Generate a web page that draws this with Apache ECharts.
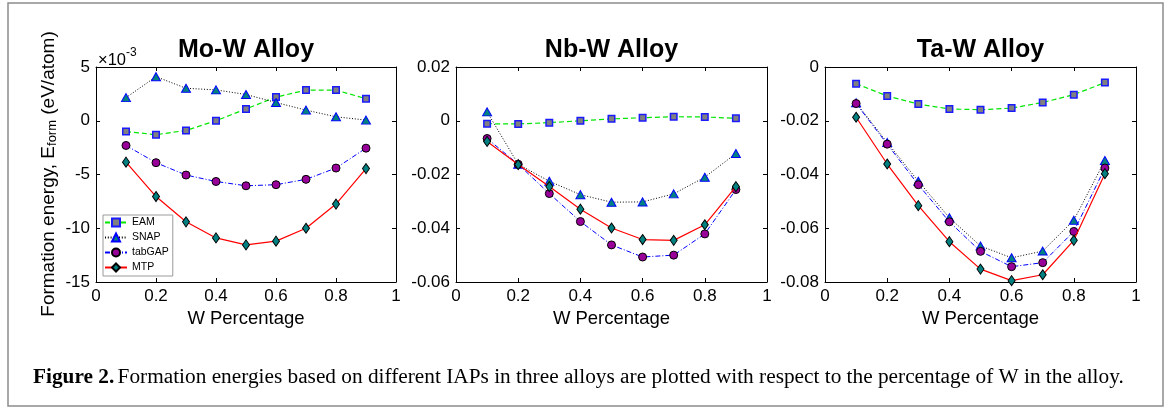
<!DOCTYPE html>
<html><head><meta charset="utf-8">
<script src="https://cdn.jsdelivr.net/npm/echarts@6/dist/echarts.min.js"></script>
<style>html,body{margin:0;padding:0;background:#fff}#c{width:1171px;height:410px}</style>
</head><body><div id="c"></div>
<script>
// ---------- data ----------
const wFraction = [0.1, 0.2, 0.3, 0.4, 0.5, 0.6, 0.7, 0.8, 0.9];
const panelTitles = ['Mo-W Alloy', 'Nb-W Alloy', 'Ta-W Alloy'];
const modelNames = ['EAM', 'SNAP', 'tabGAP', 'MTP'];

// Mo-W values in units of 1e-3 eV/atom (axis shows x10^-3)
const moW_EAM    = [-1.0, -1.3, -0.9, 0.0, 1.1, 2.2, 2.85, 2.85, 2.05];
const moW_SNAP   = [2.15, 4.1, 3.02, 2.87, 2.44, 1.7, 0.99, 0.37, 0.06];
const moW_tabGAP = [-2.3, -3.9, -5.05, -5.65, -6.05, -5.95, -5.45, -4.4, -2.55];
const moW_MTP    = [-3.85, -7.05, -9.4, -10.9, -11.55, -11.2, -10.0, -7.75, -4.45];

const nbW_EAM    = [-0.0011, -0.0012, -0.0007, 0.0, 0.0007, 0.0011, 0.0015, 0.0014, 0.0009];
const nbW_SNAP   = [0.0033, -0.0162, -0.0225, -0.0275, -0.0303, -0.0302, -0.0272, -0.021, -0.0122];
const nbW_tabGAP = [-0.0066, -0.0162, -0.0271, -0.0375, -0.0462, -0.0507, -0.0500, -0.0421, -0.0256];
const nbW_MTP    = [-0.0077, -0.0163, -0.0245, -0.0329, -0.0399, -0.0442, -0.0445, -0.0387, -0.0245];

const taW_EAM    = [-0.0062, -0.0108, -0.0138, -0.0156, -0.0159, -0.0153, -0.0132, -0.0103, -0.0058];
const taW_SNAP   = [-0.0133, -0.0281, -0.0425, -0.0561, -0.0666, -0.0710, -0.0685, -0.0570, -0.0348];
const taW_tabGAP = [-0.0136, -0.0287, -0.0438, -0.0576, -0.0686, -0.0743, -0.0728, -0.0612, -0.0376];
const taW_MTP    = [-0.0187, -0.0361, -0.0516, -0.0650, -0.0752, -0.0795, -0.0773, -0.0645, -0.0397];

const xTicks = {min: 0, max: 1, interval: 0.2};
const yTicks = [
  {min: -15, max: 5, interval: 5},
  {min: -0.06, max: 0.02, interval: 0.02},
  {min: -0.08, max: 0, interval: 0.02}
];
const panelData = [
  [moW_EAM, moW_SNAP, moW_tabGAP, moW_MTP],
  [nbW_EAM, nbW_SNAP, nbW_tabGAP, nbW_MTP],
  [taW_EAM, taW_SNAP, taW_tabGAP, taW_MTP]
];

// ---------- styles ----------
const SANS = 'Liberation Sans, Arial, Helvetica, sans-serif';
const SERIF = 'Liberation Serif, Times New Roman, serif';
const grids = [
  {left: 96,  top: 67, width: 300, height: 215},
  {left: 456, top: 67, width: 311, height: 215},
  {left: 825, top: 67, width: 311, height: 215}
];
const modelStyles = {
  EAM:    {symbol: 'rect', symbolSize: 6.5, itemStyle: {color: '#808080', borderColor: '#1a1aff', borderWidth: 1.5},
           lineStyle: {color: '#00e600', type: [5, 3], width: 1.2}},
  SNAP:   {symbol: 'triangle', symbolSize: [9, 8], itemStyle: {color: '#008080', borderColor: '#0000ff', borderWidth: 1},
           lineStyle: {color: '#000000', type: [1, 1.8], width: 1}},
  tabGAP: {symbol: 'circle', symbolSize: 8, itemStyle: {color: '#990099', borderColor: '#000000', borderWidth: 1},
           lineStyle: {color: '#0000ff', type: [5, 2, 1, 2], width: 1}},
  MTP:    {symbol: 'diamond', symbolSize: [7, 10], itemStyle: {color: '#008080', borderColor: '#000000', borderWidth: 1},
           lineStyle: {color: '#ff0000', type: 'solid', width: 1.2}}
};

const axisLineStyle = {onZero: false, lineStyle: {color: '#000', width: 1}};
const tickStyle = {inside: true, length: 4, lineStyle: {color: '#000', width: 1}};
const labelStyle = {color: '#000', fontSize: 17, fontFamily: SANS};

const xAxes = [], yAxes = [], series = [];
grids.forEach((g, gi) => {
  ['bottom', 'top'].forEach(pos => {
    xAxes.push(Object.assign({type: 'value', gridIndex: gi, position: pos,
      axisLine: axisLineStyle, axisTick: tickStyle, splitLine: {show: false},
      axisLabel: Object.assign({show: pos === 'bottom', margin: 6}, labelStyle),
      name: pos === 'bottom' ? 'W Percentage' : '', nameLocation: 'middle', nameGap: 26,
      nameTextStyle: {color: '#000', fontSize: 18.5, fontFamily: SANS}
    }, xTicks));
  });
  ['left', 'right'].forEach(pos => {
    yAxes.push(Object.assign({type: 'value', gridIndex: gi, position: pos,
      axisLine: axisLineStyle, axisTick: tickStyle, splitLine: {show: false},
      axisLabel: Object.assign({show: pos === 'left', margin: 6}, labelStyle)
    }, yTicks[gi]));
  });
  modelNames.forEach((m, mi) => {
    const st = modelStyles[m];
    series.push({
      type: 'line', name: m, xAxisIndex: gi * 2, yAxisIndex: gi * 2,
      data: wFraction.map((x, i) => [x, panelData[gi][mi][i]]),
      symbol: st.symbol, symbolSize: st.symbolSize,
      itemStyle: st.itemStyle, lineStyle: st.lineStyle,
      emphasis: {disabled: true}, silent: true, z: 2 + mi
    });
  });
});

const titleGraphics = panelTitles.map((t, i) => ({
  type: 'text', x: grids[i].left + grids[i].width / 2, y: 50,
  style: {text: t, align: 'center', verticalAlign: 'middle', fontSize: 25, fontWeight: 'bold', fontFamily: SANS, fill: '#000'}
}));

const option = {
  animation: false,
  backgroundColor: '#fff',
  grid: grids,
  xAxis: xAxes,
  yAxis: yAxes,
  series: series,
  legend: {
    data: modelNames, orient: 'vertical', left: 103, top: 215,
    itemWidth: 22, itemHeight: 10, itemGap: 4,
    padding: [2, 4, 3, 1],
    borderColor: '#9a9a9a', borderWidth: 1, backgroundColor: '#fff',
    textStyle: {color: '#000', fontSize: 10.5, fontFamily: SANS},
    selectedMode: false
  },
  graphic: [
    {type: 'rect', silent: true, z: -10, shape: {x: 8, y: 3, width: 1155, height: 403},
     style: {fill: 'none', stroke: '#8c8c8c', lineWidth: 1.5}},
    ...titleGraphics,
    {type: 'text', x: 98, y: 58, silent: true,
     style: {text: '{m|\u00d710}{s|-3}', verticalAlign: 'middle', fill: '#000',
       rich: {m: {fontSize: 16.5, fontFamily: SANS, fill: '#000', lineHeight: 22, verticalAlign: 'bottom'},
              s: {fontSize: 12, fontFamily: SANS, fill: '#000', lineHeight: 12, verticalAlign: 'top'}}}},
    {type: 'text', x: 49, y: 174, rotation: Math.PI / 2, silent: true,
     style: {text: '{a|Formation energy, E}{b|form}{a| (eV/atom)}', align: 'center', verticalAlign: 'middle', fill: '#000',
       rich: {a: {fontSize: 19, fontFamily: SANS, fill: '#000', lineHeight: 19, verticalAlign: 'top'},
              b: {fontSize: 13, fontFamily: SANS, fill: '#000', lineHeight: 13, verticalAlign: 'bottom'}}}},
    {type: 'text', x: 33, y: 377, silent: true,
     style: {text: '{b|Figure 2.} {n|Formation energies based on different IAPs in three alloys are plotted with respect to the percentage of W in the alloy.}',
       verticalAlign: 'middle', fill: '#000',
       rich: {b: {fontSize: 21.3, fontWeight: 'bold', fontFamily: SERIF, fill: '#000'},
              n: {fontSize: 21.3, fontFamily: SERIF, fill: '#000'}}}}
  ]
};
const chart = echarts.init(document.getElementById('c'));
chart.setOption(option);
</script>
</body></html>
